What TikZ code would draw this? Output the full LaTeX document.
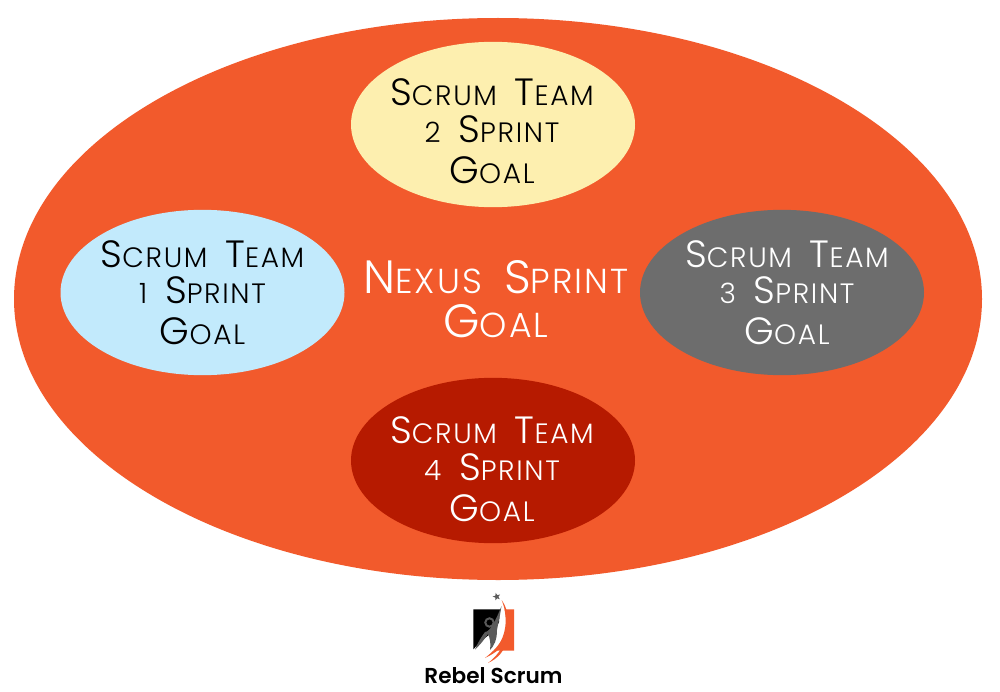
\documentclass[tikz,border=0pt]{standalone}
\usepackage{fontspec}
\usetikzlibrary{shapes.geometric}
\newfontfamily\lightfont[UprightFont=* Light,LetterSpace=6,WordSpace=1.9]{Poppins}
\newfontfamily\logofont[UprightFont=* SemiBold]{Poppins}
\definecolor{nexus}{HTML}{F25A2C}
\definecolor{yel}{HTML}{FDEFAF}
\definecolor{blu}{HTML}{C2EAFC}
\definecolor{gry}{HTML}{6D6D6D}
\definecolor{red4}{HTML}{B61A00}
\definecolor{logogray}{HTML}{5A5A5A}
\newcommand{\bigc}[1]{{\fontsize{28.5pt}{30pt}\selectfont #1}}
\newcommand{\bign}[1]{{\fontsize{35pt}{35pt}\selectfont #1}}
\newcommand{\teamtext}[1]{\bigc{S}CRUM \bigc{T}EAM\\[1.6pt]#1 \bigc{S}PRINT\\[4.5pt]\bigc{G}OAL}
\tikzset{
  x=0.75pt,y=-0.75pt,
  oval/.style={ellipse,inner sep=0pt,minimum width=213pt,minimum height=124pt,draw=none},
  teamlabel/.style={align=center,inner sep=0pt,font=\lightfont\fontsize{21pt}{26pt}\selectfont},
  biglabel/.style={align=center,inner sep=0pt,text=white,font=\lightfont\fontsize{26pt}{33pt}\selectfont},
}
\begin{document}
\begin{tikzpicture}
\useasboundingbox (0,0) rectangle (1000,692);
\fill[white] (0,0) rectangle (1000,692);
\node[ellipse,fill=nexus,inner sep=0pt,minimum width=726pt,minimum height=421.5pt] (nexus) at (498,299) {};
\node[oval,fill=yel] (t2) at (493,124.5) {};
\node[oval,fill=blu] (t1) at (202.5,292.5) {};
\node[oval,fill=gry] (t3) at (782,292.5) {};
\node[oval,fill=red4] (t4) at (493,460.5) {};
\node[teamlabel,text=black] (l2) at (492,131) {\teamtext{2}};
\node[teamlabel,text=black] (l1) at (202.5,292.5) {\teamtext{1}};
\node[teamlabel,text=white] (l3) at (787,292.5) {\teamtext{3}};
\node[teamlabel,text=white] (l4) at (492,469) {\teamtext{4}};
\node[biglabel] (lc) at (496,299.5) {\bign{N}EXUS \bign{S}PRINT\\\bign{G}OAL};
% logo
\fill[black] (473.3,609.3) -- (500,609.3) -- (499,622) .. controls (496,630) and (488,636) .. (482,640) -- (473.3,649.3) -- cycle;
\fill[nexus] (504.5,609.3) -- (514,609.3) -- (514,650.5) -- (495,650.5) .. controls (503,640) and (508,628) .. (504.5,609.3) -- cycle;
\fill[nexus] (501.7,600) .. controls (507,614) and (509,630) .. (501,641) .. controls (497,648) and (490,654) .. (485,658) .. controls (493,654) and (500,650) .. (504,643) .. controls (511,630) and (510,612) .. (501.7,600) -- cycle;
\fill[nexus] (505.7,638) .. controls (503,648) and (496,657) .. (488,663) .. controls (497,659) and (507,650) .. (505.7,638) -- cycle;
\fill[logogray] (501.5,606) .. controls (500,616) and (498,624) .. (497,630) .. controls (497,640) and (494,646) .. (490,650) .. controls (491,644) and (490,638) .. (488,634) .. controls (484,640) and (479,646) .. (475,649.5) .. controls (478,642) and (482,636) .. (485,632) .. controls (490,632) and (496,620) .. (501.5,606) -- cycle;
\draw[logogray,line width=1.5pt] (489.5,622.5) circle[radius=4.2];
\node[star,star points=5,star point ratio=2.4,fill=logogray,inner sep=0pt,minimum size=6pt,rotate=15] (starmark) at (496.7,596.7) {};
\node[font=\logofont\fontsize{16.2pt}{18pt}\selectfont,inner sep=0pt,anchor=base] (brand) at (493.5,683) {Rebel Scrum};
\end{tikzpicture}
\end{document}
